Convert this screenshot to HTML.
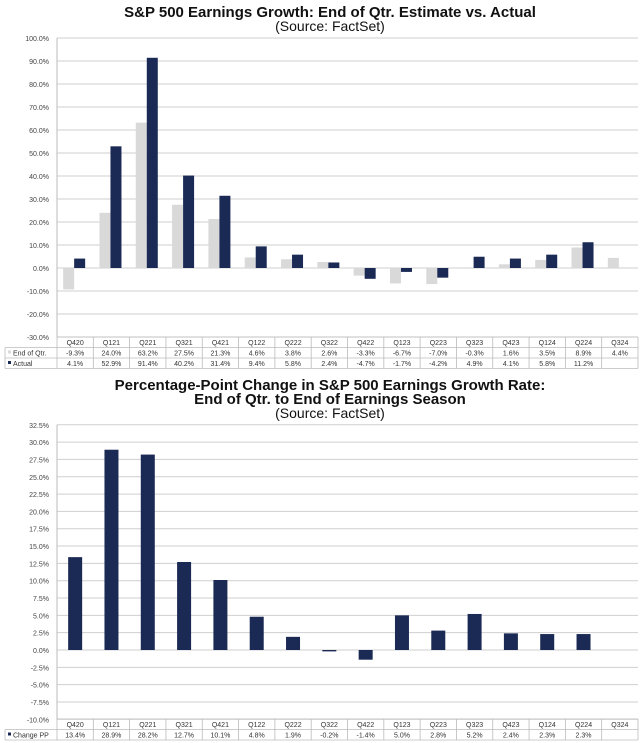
<!DOCTYPE html>
<html><head><meta charset="utf-8"><style>
body{margin:0;background:#fff;font-family:"Liberation Sans",sans-serif;}
svg{display:block}
</style></head><body>
<svg width="640" height="743" viewBox="0 0 640 743">
<g id="top"></g>
<g id="bot"></g>
</svg>
<script>
const categories=["Q420","Q121","Q221","Q321","Q421","Q122","Q222","Q322","Q422","Q123","Q223","Q323","Q423","Q124","Q224","Q324"];
const estimateVals=[-9.3,24.0,63.2,27.5,21.3,4.6,3.8,2.6,-3.3,-6.7,-7.0,-0.3,1.6,3.5,8.9,4.4];
const actualVals=[4.1,52.9,91.4,40.2,31.4,9.4,5.8,2.4,-4.7,-1.7,-4.2,4.9,4.1,5.8,11.2,null];
const changeVals=[13.4,28.9,28.2,12.7,10.1,4.8,1.9,-0.2,-1.4,5.0,2.8,5.2,2.4,2.3,2.3,null];
const topTicks=[100,90,80,70,60,50,40,30,20,10,0,-10,-20,-30];
const botTicks=[32.5,30,27.5,25,22.5,20,17.5,15,12.5,10,7.5,5,2.5,0,-2.5,-5,-7.5,-10];

const NS="http://www.w3.org/2000/svg";
function mk(parent,tag,attrs,text){const e=document.createElementNS(NS,tag);for(const k in attrs)e.setAttribute(k,attrs[k]);if(text!==undefined)e.textContent=text;parent.appendChild(e);return e;}
const X0=57,X1=638,colW=(X1-X0)/categories.length;
const NAVY="#1b2a55",GREY="#d9d9d9";
function fmt(v){return v==null?"":v.toFixed(1)+"%";}

function title(g,lines,y0){
  lines.forEach((l,i)=>{const t=mk(g,"text",{x:330,y:y0+i*14,"text-anchor":"middle","font-size":l.b?15:14,"font-weight":l.b?"bold":"normal",fill:"#111"},l.t);
  
  });
}
function axis(g,ticks,yFn){
  ticks.forEach(v=>{const y=yFn(v);
    const l=mk(g,"line",{x1:X0,x2:X1,y1:y,y2:y,stroke:"#cfcfcf","stroke-width":1});
    
    
    const t=mk(g,"text",{x:X0-8,y:y+3,"text-anchor":"end","font-size":7,fill:"#444"},v.toFixed(1)+"%");
    
    });
  const a=mk(g,"line",{x1:X0,x2:X0,y1:yFn(ticks[0]),y2:yFn(ticks[ticks.length-1]),stroke:"#bbb"});
  
  
}
function table(g,yTop,rows){
  const rh=10.5;const n=rows.length+1;
  for(let r=0;r<=n;r++){const y=yTop+r*rh;const x=r<=0?X0:5;
    const l=mk(g,"line",{x1:x,x2:X1,y1:y,y2:y,stroke:"#bbb","stroke-width":0.8});
    
    }
  for(let c=0;c<=categories.length;c++){const x=X0+c*colW;
    const l=mk(g,"line",{x1:x,x2:x,y1:yTop,y2:yTop+n*rh,stroke:"#bbb","stroke-width":0.8});
    
    }
  const lv=mk(g,"line",{x1:5,x2:5,y1:yTop+rh,y2:yTop+n*rh,stroke:"#bbb","stroke-width":0.8});
  
  
  categories.forEach((c,i)=>{const t=mk(g,"text",{x:X0+(i+.5)*colW,y:yTop+8,"text-anchor":"middle","font-size":7,fill:"#333"},c);
    
    });
  rows.forEach((r,ri)=>{const y=yTop+(ri+1)*rh+8;
    mk(g,"rect",{x:8,y:y-5,width:3,height:3,fill:r.color});
    const lt=mk(g,"text",{x:13,y:y,"font-size":7,fill:"#333"},r.label);
    
    
    r.vals.forEach((v,i)=>{const t=mk(g,"text",{x:X0+(i+.5)*colW,y:y,"text-anchor":"middle","font-size":7,fill:"#333"},fmt(v));
      
      });});
}
const gt=document.getElementById("top");
title(gt,[{t:"S&P 500 Earnings Growth:  End of Qtr. Estimate vs. Actual",b:1},{t:"(Source: FactSet)"}],17);
const yT=v=>268-v*2.3;
axis(gt,topTicks,yT);
estimateVals.forEach((v,i)=>{if(v==null)return;const c=X0+(i+.5)*colW;
  const r=mk(gt,"rect",{x:c-12,y:Math.min(yT(v),yT(0)),width:11,height:Math.abs(yT(v)-yT(0)),fill:GREY});
  
  });
actualVals.forEach((v,i)=>{if(v==null)return;const c=X0+(i+.5)*colW;
  const r=mk(gt,"rect",{x:c-1,y:Math.min(yT(v),yT(0)),width:11,height:Math.abs(yT(v)-yT(0)),fill:NAVY});
  
  });
table(gt,337,[{label:"End of Qtr.",vals:estimateVals,color:GREY},{label:"Actual",vals:actualVals,color:NAVY}]);
const gb=document.getElementById("bot");
title(gb,[{t:"Percentage-Point Change in S&P 500 Earnings Growth Rate:",b:1},{t:"End of Qtr. to End of Earnings Season",b:1},{t:"(Source: FactSet)"}],390);
const yB=v=>650-v*6.93;
axis(gb,botTicks,yB);
changeVals.forEach((v,i)=>{if(v==null)return;const c=X0+(i+.5)*colW;
  const r=mk(gb,"rect",{x:c-7,y:Math.min(yB(v),yB(0)),width:14,height:Math.max(1,Math.abs(yB(v)-yB(0))),fill:NAVY});
  
  });
table(gb,719,[{label:"Change PP",vals:changeVals,color:NAVY}]);
</script>
</body></html>
